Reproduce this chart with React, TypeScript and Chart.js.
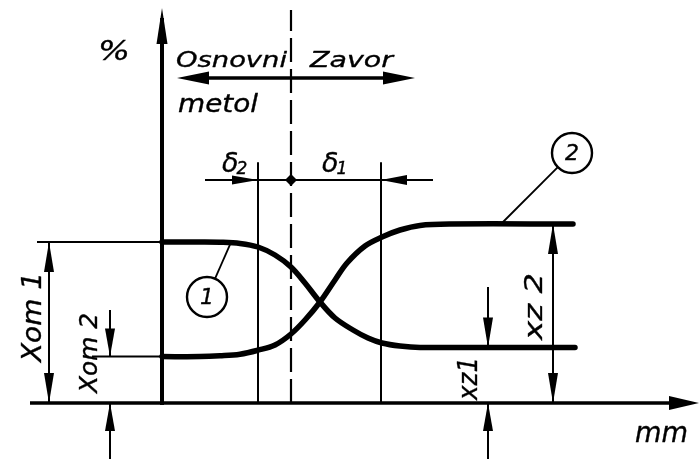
import React, { useEffect, useRef } from "react";
import { Chart, registerables } from "chart.js";

Chart.register(...registerables);

// Curve 1 (base-metal share) and curve 2 (weld share), x in mm-units, y in %
const curve1X = [0, 3.8, 5.8, 7.8, 9.6, 11.3, 12.9, 14.3, 15.8, 17.3, 19.1, 20.6, 22, 23.8, 25.8, 41.3];
const curve1Y = [40.25, 40.25, 40.2, 39.9, 39, 37, 34, 30, 25.25, 21.25, 18.25, 16.25, 15, 14.25, 13.9, 13.9];
const curve2X = [0, 3.8, 5.8, 7.8, 9.6, 11.3, 12.9, 14.3, 15.8, 17.3, 18.5, 20.3, 22, 23.8, 25.8, 28.8, 41.1];
const curve2Y = [11.6, 11.6, 11.8, 12.2, 13.2, 14.5, 17.25, 20.75, 25.25, 30.75, 35, 39.25, 41.5, 43.25, 44.4, 44.75, 44.75];

// Zone markers: δ2 boundary, fusion line, δ1 boundary
const zoneX = [9.6, 12.9, 21.9];
const zoneTop = 60.2;
const deltaY = 55.75;
const deltaSpan = [4.3, 27.1];
const directionY = 81.25;
const directionSpan = [1.5, 25.3];
const dimX = { xom1: -11.3, xom2: -5.2, xz1: 32.6, xz2: 39.1 };
const tailTop = { xom2: 23.25, xz1: 29 };
const belowAxis = -14;
const circles = [
  { label: "1", x: 4.5, y: 26.5, tx: 6.8, ty: 39.6 },
  { label: "2", x: 41, y: 62.5, tx: 34, ty: 45 },
];
// Text labels: text, x, y (baseline start), font size, target width, rotated
const labels = [
  { text: "%", x: -6.4, y: 85.75, size: 26, w: 32, rot: false },
  { text: "Osnovni", x: 1.4, y: 84, size: 22, w: 111, rot: false },
  { text: "Zavor", x: 14.8, y: 84, size: 22, w: 83, rot: false },
  { text: "metol", x: 1.6, y: 72.75, size: 24, w: 80, rot: false },
  { text: "Xom 1", x: -12.1, y: 10.25, size: 27, w: 90, rot: true },
  { text: "Xom 2", x: -6.5, y: 2.5, size: 25, w: 80, rot: true },
  { text: "xz 2", x: 38, y: 15.75, size: 25, w: 67, rot: true },
  { text: "xz1", x: 31.5, y: 0.75, size: 26, w: 43, rot: true },
  { text: "mm", x: 47.3, y: -9.75, size: 28, w: 53, rot: false },
];
const deltaLabels = [
  { sym: "δ", sub: "2", x: 6.0, y: 57.75 },
  { sym: "δ", sub: "1", x: 16.0, y: 57.75 },
];

const FONT = '"DejaVu Sans"';
const THIN = 2;
const TEXT_STROKE = 0.35;

function arrowHead(ctx: CanvasRenderingContext2D, tx: number, ty: number, dx: number, dy: number, len: number, hw: number) {
  const bx = tx - dx * len;
  const by = ty - dy * len;
  const nx = -dy;
  const ny = dx;
  ctx.beginPath();
  ctx.moveTo(tx, ty);
  ctx.lineTo(bx + nx * hw, by + ny * hw);
  ctx.lineTo(bx - nx * hw, by - ny * hw);
  ctx.closePath();
  ctx.fill();
}

function seg(ctx: CanvasRenderingContext2D, x1: number, y1: number, x2: number, y2: number, w: number, dash?: number[]) {
  ctx.save();
  ctx.lineWidth = w;
  ctx.setLineDash(dash || []);
  ctx.beginPath();
  ctx.moveTo(x1, y1);
  ctx.lineTo(x2, y2);
  ctx.stroke();
  ctx.restore();
}

function label(ctx: CanvasRenderingContext2D, text: string, px: number, py: number, size: number, w: number, rot: boolean) {
  ctx.save();
  ctx.font = `italic ${size}px ${FONT}`;
  const m = ctx.measureText(text).width;
  ctx.translate(px, py);
  if (rot) ctx.rotate(-Math.PI / 2);
  ctx.scale(w / m, 1);
  ctx.textAlign = "left";
  ctx.textBaseline = "alphabetic";
  ctx.lineWidth = TEXT_STROKE;
  ctx.lineJoin = "round";
  ctx.fillText(text, 0, 0);
  ctx.strokeText(text, 0, 0);
  ctx.restore();
}

const drawingPlugin = {
  id: "drawing",
  beforeDatasetsDraw(chart: any) {
    const ctx: CanvasRenderingContext2D = chart.ctx;
    const xs = chart.scales.x;
    const ys = chart.scales.y;
    const X = (v: number) => xs.getPixelForValue(v);
    const Y = (v: number) => ys.getPixelForValue(v);
    const area = chart.chartArea;
    ctx.save();
    ctx.strokeStyle = "#000";
    ctx.fillStyle = "#000";
    ctx.lineCap = "butt";

    // axes
    seg(ctx, X(0), Y(0) + 2, X(0), area.top + 10, 4);
    arrowHead(ctx, X(0), area.top, 0, -1, 36, 5.5);
    seg(ctx, area.left, Y(0), area.right - 10, Y(0), 3.5);
    arrowHead(ctx, area.right - 1, Y(0), 1, 0, 30, 7);

    // fusion (dashed) line
    seg(ctx, X(zoneX[1]), Y(0), X(zoneX[1]), area.top + 2, 2.2, [24, 7]);
    // zone boundaries
    seg(ctx, X(zoneX[0]), Y(0), X(zoneX[0]), Y(zoneTop), THIN);
    seg(ctx, X(zoneX[2]), Y(0), X(zoneX[2]), Y(zoneTop), THIN);
    // δ line
    seg(ctx, X(deltaSpan[0]), Y(deltaY), X(deltaSpan[1]), Y(deltaY), THIN);
    arrowHead(ctx, X(zoneX[0]), Y(deltaY), 1, 0, 26, 4.5);
    arrowHead(ctx, X(zoneX[2]), Y(deltaY), -1, 0, 26, 5);
    ctx.beginPath();
    ctx.moveTo(X(zoneX[1]), Y(deltaY) - 6);
    ctx.lineTo(X(zoneX[1]) + 6, Y(deltaY));
    ctx.lineTo(X(zoneX[1]), Y(deltaY) + 6);
    ctx.lineTo(X(zoneX[1]) - 6, Y(deltaY));
    ctx.closePath();
    ctx.fill();

    // direction double arrow
    seg(ctx, X(directionSpan[0]) + 10, Y(directionY), X(directionSpan[1]) - 10, Y(directionY), 3.5);
    arrowHead(ctx, X(directionSpan[0]), Y(directionY), -1, 0, 32, 6.5);
    arrowHead(ctx, X(directionSpan[1]), Y(directionY), 1, 0, 32, 6.5);

    const c1a = curve1Y[0];
    const c1b = curve1Y[curve1Y.length - 1];
    const c2a = curve2Y[0];
    const c2b = curve2Y[curve2Y.length - 1];

    // Xom1
    seg(ctx, X(dimX.xom1 - 1.2), Y(c1a), X(0), Y(c1a), THIN);
    seg(ctx, X(dimX.xom1), Y(0), X(dimX.xom1), Y(c1a), THIN);
    arrowHead(ctx, X(dimX.xom1), Y(c1a), 0, -1, 30, 5);
    arrowHead(ctx, X(dimX.xom1), Y(0), 0, 1, 30, 5);
    // Xom2
    seg(ctx, X(dimX.xom2 - 1.8), Y(c2a), X(0), Y(c2a), THIN);
    seg(ctx, X(dimX.xom2), Y(tailTop.xom2), X(dimX.xom2), Y(c2a), THIN);
    arrowHead(ctx, X(dimX.xom2), Y(c2a), 0, 1, 28, 5);
    seg(ctx, X(dimX.xom2), Y(belowAxis), X(dimX.xom2), Y(0), THIN);
    arrowHead(ctx, X(dimX.xom2), Y(0), 0, -1, 28, 5);
    // Xz1
    seg(ctx, X(dimX.xz1), Y(tailTop.xz1), X(dimX.xz1), Y(c1b), THIN);
    arrowHead(ctx, X(dimX.xz1), Y(c1b), 0, 1, 30, 5);
    seg(ctx, X(dimX.xz1), Y(belowAxis), X(dimX.xz1), Y(0), THIN);
    arrowHead(ctx, X(dimX.xz1), Y(0), 0, -1, 28, 5);
    // Xz2
    seg(ctx, X(dimX.xz2), Y(0), X(dimX.xz2), Y(c2b), THIN);
    arrowHead(ctx, X(dimX.xz2), Y(c2b), 0, -1, 30, 5);
    arrowHead(ctx, X(dimX.xz2), Y(0), 0, 1, 30, 5);

    // circles with leaders
    circles.forEach((c) => {
      const cx = X(c.x);
      const cy = Y(c.y);
      const r = 20;
      const tx = X(c.tx);
      const ty = Y(c.ty);
      const d = Math.hypot(tx - cx, ty - cy);
      seg(ctx, cx + ((tx - cx) / d) * r, cy + ((ty - cy) / d) * r, tx, ty, 1.8);
      ctx.lineWidth = 2.4;
      ctx.beginPath();
      ctx.arc(cx, cy, r, 0, Math.PI * 2);
      ctx.stroke();
      ctx.font = `italic 22px ${FONT}`;
      ctx.textAlign = "center";
      ctx.textBaseline = "middle";
      ctx.lineWidth = TEXT_STROKE;
      ctx.fillText(c.label, cx, cy + 1);
      ctx.strokeText(c.label, cx, cy + 1);
    });

    // labels
    labels.forEach((l) => label(ctx, l.text, X(l.x), Y(l.y), l.size, l.w, l.rot));
    deltaLabels.forEach((d) => {
      ctx.font = `italic 27px ${FONT}`;
      ctx.textAlign = "left";
      ctx.textBaseline = "alphabetic";
      ctx.lineWidth = TEXT_STROKE;
      const px = X(d.x);
      const py = Y(d.y);
      ctx.fillText(d.sym, px, py);
      ctx.strokeText(d.sym, px, py);
      const w = ctx.measureText(d.sym).width;
      ctx.font = `italic 17px ${FONT}`;
      ctx.fillText(d.sub, px + w - 2, py + 2);
      ctx.strokeText(d.sub, px + w - 2, py + 2);
    });
    ctx.restore();
  },
};

export default function App() {
  const ref = useRef<HTMLCanvasElement | null>(null);
  useEffect(() => {
    if (!ref.current) return;
    const mk = (xs: number[], ys: number[]) => xs.map((x, i) => ({ x, y: ys[i] }));
    const style = {
      showLine: true,
      borderColor: "#000",
      borderWidth: 5.5,
      pointRadius: 0,
      tension: 0.35,
      borderCapStyle: "round",
      borderJoinStyle: "round",
    };
    const chart = new Chart(ref.current, {
      type: "scatter",
      data: {
        datasets: [
          { label: "1", data: mk(curve1X, curve1Y), ...style },
          { label: "2", data: mk(curve2X, curve2Y), ...style },
        ],
      },
      options: {
        animation: false,
        responsive: true,
        maintainAspectRatio: false,
        layout: { padding: { left: 30, right: 0, top: 8, bottom: 56 } },
        scales: {
          x: { type: "linear", min: -13.2, max: 53.8, display: false },
          y: { type: "linear", min: 0, max: 98.75, display: false },
        },
        plugins: { legend: { display: false }, tooltip: { enabled: false } },
      } as any,
      plugins: [drawingPlugin],
    });
    return () => chart.destroy();
  }, []);
  return (
    <div style={{ position: "fixed", left: 0, top: 0, width: 700, height: 459, background: "#fff" }}>
      <canvas ref={ref} />
    </div>
  );
}
